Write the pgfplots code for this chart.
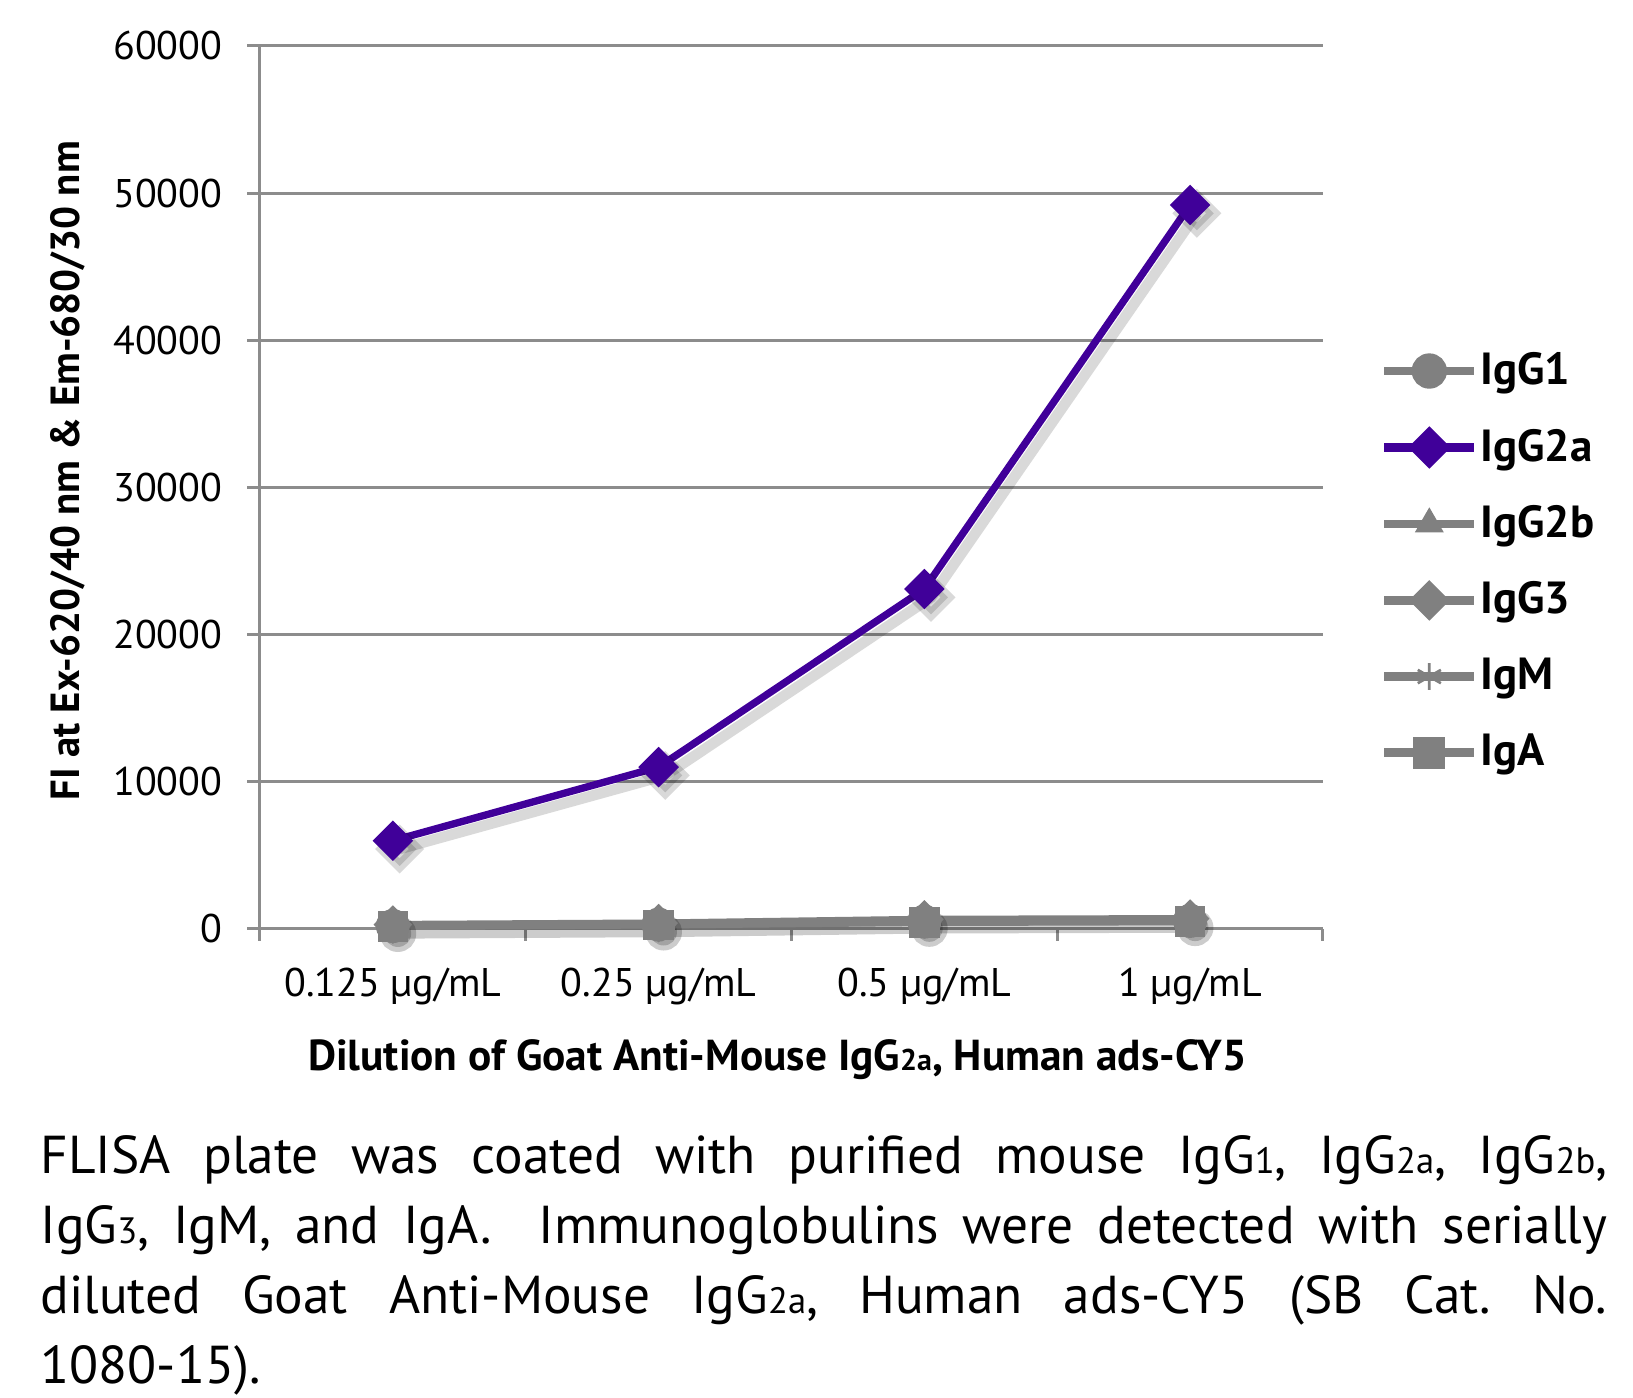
\documentclass[border=0pt]{standalone}
\usepackage{fontspec}
\setmainfont{PT Sans}
\usepackage{pgfplots}
\pgfplotsset{compat=1.18}

\definecolor{IgPurple}{RGB}{64,0,153}
\definecolor{IgGray}{RGB}{128,128,128}
\definecolor{GridGray}{RGB}{140,140,140}

\newcommand\sub[2]{{\fontsize{#1}{#1}\selectfont #2}}
\frenchspacing

\begin{document}
\begin{tikzpicture}
% page = 1633 x 1398 px at 0.3pt per px
\path[use as bounding box] (-78pt,-140.7pt) rectangle (411.9pt,278.7pt);
\begin{axis}[
    at={(0,0)}, anchor=south west,
    scale only axis,
    width=318.9pt, height=264.9pt,
    xmin=-0.5, xmax=3.5,
    ymin=0, ymax=60000,
    xtick={0,1,2,3},
    xticklabels={0.125 µg/mL, 0.25 µg/mL, 0.5 µg/mL, 1 µg/mL},
    minor xtick={-0.5,0.5,1.5,2.5,3.5},
    ytick={0,10000,...,60000},
    scaled y ticks=false,
    major x tick style={draw=none},
    tick align=outside,
    major tick length=3.75pt,
    minor tick length=3.5pt,
    every tick/.style={GridGray, line width=0.9pt},
    axis x line*=bottom, axis y line*=left,
    axis line style={GridGray, line width=0.9pt},
    ymajorgrids,
    major grid style={GridGray, line width=0.9pt},
    /pgf/number format/assume math mode=true,
    /pgf/number format/fixed,
    /pgf/number format/1000 sep={},
    tick label style={font=\fontsize{12}{12}\selectfont, black},
    yticklabel style={xshift=-4pt},
    xticklabel style={yshift=-4.5pt},
    xlabel={\textbf{Dilution of Goat Anti-Mouse IgG\sub{9}{2a}, Human ads-CY5}},
    xlabel style={font=\fontsize{13}{13}\selectfont, at={(axis description cs:0.487,-0.148)}, anchor=center},
    ylabel={\textbf{FI at Ex-620/40 nm \& Em-680/30 nm}},
    ylabel style={font=\fontsize{12.2}{12}\selectfont, at={(axis description cs:-0.181,0.519)}, anchor=center},
    legend style={draw=none, fill=none, at={(1.053,0.416)}, anchor=west,
        font=\bfseries\fontsize{13.5}{13}\selectfont, row sep=10.8pt, inner sep=0pt,
        nodes={inner sep=0.5pt}},
    legend cell align=left,
    legend image code/.code={\draw[line width=2.6pt, mark repeat=2,mark phase=2] plot coordinates {(0pt,0pt) (13.5pt,0pt) (27pt,0pt)};},
    clip=false,
]
% soft drop shadows
\addplot[forget plot, black, opacity=0.15, line width=3.2pt, shift={(2pt,-2.5pt)}, mark=square*, mark size=3.6pt, mark options={rotate=45}]
  coordinates {(0,6000) (1,11000) (2,23100) (3,49200)};
\addplot[forget plot, black, opacity=0.2, line width=3pt, shift={(1.5pt,-2.5pt)}, mark=*, mark size=4pt]
  coordinates {(0,250) (1,350) (2,600) (3,650)};

\addplot[IgGray, line width=2.2pt, mark=*, mark size=4pt]
  coordinates {(0,200) (1,300) (2,500) (3,550)};
\addlegendentry{IgG1}
\addplot[IgPurple, line width=2.2pt, mark=square*, mark size=3.2pt, mark options={rotate=45}]
  coordinates {(0,6000) (1,11000) (2,23100) (3,49200)};
\addlegendentry{IgG2a}
\addplot[IgGray, line width=2.2pt, mark=triangle*, mark size=4.5pt, mark options={line width=0.5pt}]
  coordinates {(0,250) (1,350) (2,600) (3,650)};
\addlegendentry{IgG2b}
\addplot[IgGray, line width=2.2pt, mark=square*, mark size=3pt, mark options={rotate=45}]
  coordinates {(0,300) (1,400) (2,650) (3,700)};
\addlegendentry{IgG3}
\addplot[IgGray, line width=2.2pt, mark=asterisk, mark size=4pt, mark options={line width=0.8pt}]
  coordinates {(0,220) (1,320) (2,550) (3,600)};
\addlegendentry{IgM}
\addplot[IgGray, line width=2.2pt, mark=square*, mark size=3.5pt]
  coordinates {(0,180) (1,280) (2,450) (3,500)};
\addlegendentry{IgA}
\end{axis}
\node[anchor=base west, inner sep=0pt, text width=470pt, align=justify,
      font=\fontsize{16}{21}\selectfont] at (-66pt,-73.5pt)
  {FLISA plate was coated with purified mouse IgG\sub{11}{1}, IgG\sub{11}{2a}, IgG\sub{11}{2b},\linebreak
   IgG\sub{11}{3}, IgM, and IgA.\ \ Immunoglobulins were detected with serially\linebreak
   diluted Goat Anti-Mouse IgG\sub{11}{2a}, Human ads-CY5 (SB Cat. No.\linebreak
   1080-15).};
\end{tikzpicture}
\end{document}
